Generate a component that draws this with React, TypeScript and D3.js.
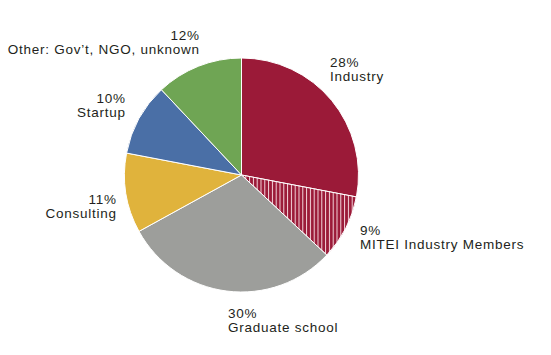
import React from "react";
import * as d3 from "d3";

const categories = ["Industry", "MITEI Industry Members", "Graduate school", "Consulting", "Startup", "Other: Gov’t, NGO, unknown"];
const values = [28, 9, 30, 11, 10, 12];
const percentLabels = ["28%", "9%", "30%", "11%", "10%", "12%"];
const colors = ["#9b1a38", "#9b1a38", "#9d9e9b", "#e0b33c", "#4a6fa6", "#6fa554"];
const hatched = [false, true, false, false, false, false];
// label anchors: [x, y of percent baseline, anchor]
const labelPos: [number, number, "start" | "end"][] = [
  [330, 66.5, "start"],
  [360, 235, "start"],
  [228, 318, "start"],
  [116, 204, "end"],
  [125, 103, "end"],
  [199, 39.5, "end"],
];

export default function App() {
  const W = 551, H = 355;
  const cx = 241.5, cy = 175, r = 117;
  const data = values.map((v, i) => ({ v, i }));
  const pie = d3.pie<{ v: number; i: number }>().value(d => d.v).sort(null).startAngle(0).endAngle(2 * Math.PI);
  const arcs = pie(data);
  const arc = d3.arc<d3.PieArcDatum<{ v: number; i: number }>>().innerRadius(0).outerRadius(r);
  return (
    <svg width={W} height={H} style={{ position: "absolute", left: 0, top: 0, background: "#fff" }}>
      <defs>
        <pattern id="hatch" patternUnits="userSpaceOnUse" width={3.8} height={10}>
          <rect width={3.8} height={10} fill="#9b1a38" />
          <line x1={0.5} y1={0} x2={0.5} y2={10} stroke="#f4d6dc" strokeWidth={1} />
        </pattern>
      </defs>
      <g transform={`translate(${cx},${cy})`}>
        {arcs.map((a, k) => (
          <path key={k} d={arc(a) || ""} fill={hatched[k] ? "url(#hatch)" : colors[k]} stroke="#fff" strokeWidth={1} />
        ))}
      </g>
      {categories.map((c, k) => {
        const [x, y, anchor] = labelPos[k];
        const dx = anchor === "end" ? 0.75 : 0;
        return (
          <text key={k} x={x} y={y} textAnchor={anchor} fontFamily="Liberation Sans, Arial, sans-serif" fontSize={13.5} letterSpacing={0.75} fill="#231f20">
            <tspan x={x + dx} y={y}>{percentLabels[k]}</tspan>
            <tspan x={x + dx} y={y + 14}>{c}</tspan>
          </text>
        );
      })}
    </svg>
  );
}
